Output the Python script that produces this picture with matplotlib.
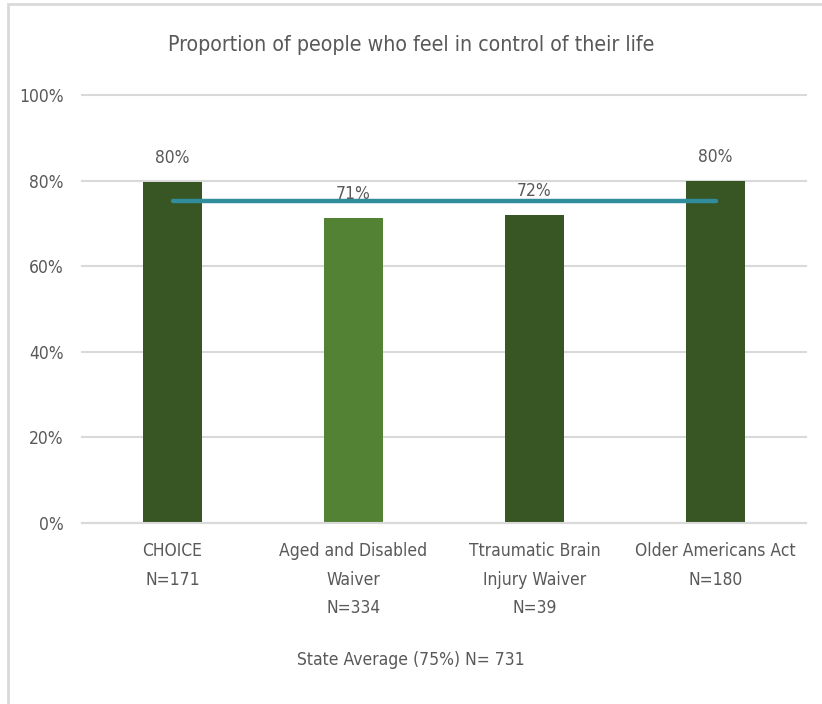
import numpy as np
import matplotlib
matplotlib.use("Agg")
import matplotlib.pyplot as plt
from matplotlib.patches import Rectangle

plt.rcParams['font.family'] = ['DejaVu Sans']
plt.rcParams['font.stretch'] = 'condensed'

# data
programs = ["CHOICE\nN=171", "Aged and Disabled\nWaiver\nN=334",
            "Ttraumatic Brain\nInjury Waiver\nN=39", "Older Americans Act\nN=180"]
share = [0.797, 0.713, 0.72, 0.80]
state_avg = [0.752, 0.752, 0.752, 0.752]
bar_colors = ["#375623", "#548235", "#375623", "#375623"]
yticks = [0, 0.2, 0.4, 0.6, 0.8, 1.0]

txt = "#595959"
grid = "#D9D9D9"

fig = plt.figure(figsize=(8.22, 7.04), dpi=100)
ax = fig.add_axes([82/822, 1-523/704, 724/822, 428/704])

x = np.arange(len(programs))
ax.bar(x, share, width=0.33, color=bar_colors, zorder=2)
ax.plot(x, state_avg, color="#318C9C", lw=3.2, solid_capstyle="round", zorder=3)

# data labels sit on a white box that breaks the gridline, under the avg line
for xi, v in zip(x, share):
    ax.annotate("%d%%" % round(v*100), (xi, v), xytext=(0, 17), textcoords="offset points",
                ha="center", va="center", fontsize=12.5, color=txt, zorder=1.5,
                bbox=dict(boxstyle="square,pad=0.35", fc="white", ec="none"))

ax.set_xlim(-0.5, 3.5)
ax.set_ylim(0, 1.0)
ax.set_yticks(yticks)
ax.set_yticklabels(["%d%%" % (t*100) for t in yticks])
ax.set_xticks(x)
ax.set_xticklabels(programs, linespacing=1.75)
ax.tick_params(length=0, labelsize=12.5, labelcolor=txt)
ax.tick_params(axis="y", pad=13)
ax.tick_params(axis="x", pad=14)
ax.grid(axis="y", color=grid, lw=1.5, zorder=0)
for gl in ax.get_ygridlines():
    gl.set_clip_on(False)
for s in ["top", "right", "left"]:
    ax.spines[s].set_visible(False)
ax.spines["bottom"].set_color(grid)
ax.spines["bottom"].set_linewidth(1.5)

fig.text(0.5, 1-45/704, "Proportion of people who feel in control of their life",
         ha="center", va="center", fontsize=15.3, color=txt)
fig.text(0.5, 1-660/704, "State Average (75%) N= 731",
         ha="center", va="center", fontsize=12.5, color=txt)

# chart frame running off the right/bottom edge
fig.patches.append(Rectangle((7.5/822, -0.1), 1.2, 1.1 - 4.5/704,
                             transform=fig.transFigure, fill=False,
                             edgecolor=grid, lw=2))

fig.savefig("out.png", dpi=100)
